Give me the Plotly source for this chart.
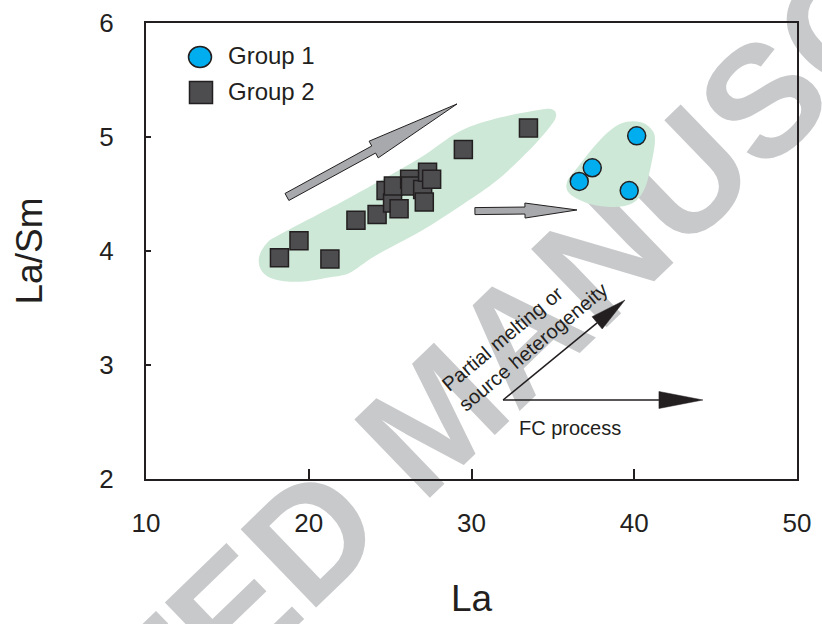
import math
import plotly.graph_objects as go

# ---------------- data ----------------
X_RANGE = [10, 50]
Y_RANGE = [2, 6]
X_TICKS = [10, 20, 30, 40, 50]
Y_TICKS = [2, 3, 4, 5, 6]

group1_name = "Group 1"
group1_la = [40.15, 37.42, 36.62, 39.69]
group1_lasm = [5.01, 4.73, 4.61, 4.53]

group2_name = "Group 2"
group2_la = [18.2, 19.4, 21.3, 22.9, 24.2, 24.75, 25.15, 25.55, 25.2, 26.2, 26.25,
             27.0, 27.1, 27.3, 27.55, 29.5, 33.5]
group2_lasm = [3.94, 4.09, 3.93, 4.27, 4.32, 4.53, 4.42, 4.37, 4.57, 4.63, 4.57,
               4.54, 4.43, 4.69, 4.63, 4.89, 5.08]

# field outlines (data coordinates)
field1_x = [16.94, 17.43, 18.42, 22.53, 26.65, 29.29, 31.75, 34.21, 35.01, 35.19,
            34.82, 33.59, 31.57, 29.48, 26.90, 24.07, 22.53, 21.31, 19.46, 17.93, 17.13]
field1_y = [3.94, 4.07, 4.16, 4.47, 4.80, 5.05, 5.17, 5.24, 5.24, 5.18,
            5.09, 4.89, 4.62, 4.41, 4.175, 3.956, 3.81, 3.77, 3.73, 3.75, 3.82]
field2_x = [39.12, 40.35, 41.09, 41.27, 40.97, 40.60, 39.92, 38.76, 37.28, 36.05, 35.87, 36.54, 37.90]
field2_y = [5.114, 5.132, 5.061, 4.956, 4.711, 4.535, 4.421, 4.386, 4.412, 4.50, 4.605, 4.737, 4.974]

# trend arrows (tail, tip) in data coordinates
gray_arrow1 = [(18.66, 4.474), (29.11, 5.29)]
gray_arrow2 = [(30.21, 4.35), (36.48, 4.36)]
black_arrow_pm = [(31.94, 2.693), (39.43, 3.57)]
black_arrow_fc = [(31.94, 2.693), (44.22, 2.693)]

label_pm = "Partial melting or<br>source heterogeneity"
label_pm_pos = (33.25, 3.25)
label_fc = "FC process"
label_fc_pos = (36.05, 2.447)

x_title = "La"
y_title = "La/Sm"
watermark = "ACCEPTED MANUSCRIPT"

# ---------------- layout geometry ----------------
W, H = 822, 624
M_L, M_R, M_T, M_B = 146, 25, 23, 145
PW = W - M_L - M_R
PH = H - M_T - M_B
FONT = "Liberation Sans, Arial, Helvetica, sans-serif"
INK = "#231f20"


def to_px(x, y):
    return (M_L + (x - X_RANGE[0]) / (X_RANGE[1] - X_RANGE[0]) * PW,
            M_T + (Y_RANGE[1] - y) / (Y_RANGE[1] - Y_RANGE[0]) * PH)


def px_to_paper(px, py):
    return ((px - M_L) / PW, (M_T + PH - py) / PH)


def arrow_path(tail, tip, shaft_w, head_w, head_len):
    x0, y0 = to_px(*tail)
    x1, y1 = to_px(*tip)
    dx, dy = x1 - x0, y1 - y0
    L = math.hypot(dx, dy)
    ux, uy = dx / L, dy / L
    nx, ny = -uy, ux
    bx, by = x1 - ux * head_len, y1 - uy * head_len
    pts = [(x0 + nx * shaft_w / 2, y0 + ny * shaft_w / 2),
           (bx + nx * shaft_w / 2, by + ny * shaft_w / 2),
           (bx + nx * head_w / 2, by + ny * head_w / 2),
           (x1, y1),
           (bx - nx * head_w / 2, by - ny * head_w / 2),
           (bx - nx * shaft_w / 2, by - ny * shaft_w / 2),
           (x0 - nx * shaft_w / 2, y0 - ny * shaft_w / 2)]
    pp = [px_to_paper(*p) for p in pts]
    return "M " + " L ".join(f"{a:.5f},{b:.5f}" for a, b in pp) + " Z"


def head_path(tail, tip, head_w, head_len):
    x0, y0 = to_px(*tail)
    x1, y1 = to_px(*tip)
    dx, dy = x1 - x0, y1 - y0
    L = math.hypot(dx, dy)
    ux, uy = dx / L, dy / L
    nx, ny = -uy, ux
    bx, by = x1 - ux * head_len, y1 - uy * head_len
    pts = [(x1, y1), (bx + nx * head_w / 2, by + ny * head_w / 2),
           (bx - nx * head_w / 2, by - ny * head_w / 2)]
    pp = [px_to_paper(*p) for p in pts]
    return "M " + " L ".join(f"{a:.5f},{b:.5f}" for a, b in pp) + " Z", (bx, by)


def smooth_closed(xs, ys):
    n = len(xs)
    p = list(zip(xs, ys))
    d = f"M {p[0][0]:.4f},{p[0][1]:.4f}"
    for i in range(n):
        p0, p1, p2, p3 = p[i - 1], p[i], p[(i + 1) % n], p[(i + 2) % n]
        c1 = (p1[0] + (p2[0] - p0[0]) / 6, p1[1] + (p2[1] - p0[1]) / 6)
        c2 = (p2[0] - (p3[0] - p1[0]) / 6, p2[1] - (p3[1] - p1[1]) / 6)
        d += f" C {c1[0]:.4f},{c1[1]:.4f} {c2[0]:.4f},{c2[1]:.4f} {p2[0]:.4f},{p2[1]:.4f}"
    return d + " Z"


fig = go.Figure()

fig.add_trace(go.Scatter(
    x=group2_la, y=group2_lasm, mode="markers", name=group2_name, showlegend=False,
    marker=dict(symbol="square", size=18, color="#4d4d4f", line=dict(color=INK, width=1.5))))
fig.add_trace(go.Scatter(
    x=group1_la, y=group1_lasm, mode="markers", name=group1_name, showlegend=False,
    marker=dict(symbol="circle", size=18, color="#00aeef", line=dict(color=INK, width=1.5))))

shapes = []

# watermark (below everything)
wm_c = (424, 406)
wm_ang = math.radians(44)
wm_d = 320
wx0, wy0 = px_to_paper(wm_c[0] - wm_d * math.cos(wm_ang), wm_c[1] + wm_d * math.sin(wm_ang))
wx1, wy1 = px_to_paper(wm_c[0] + wm_d * math.cos(wm_ang), wm_c[1] - wm_d * math.sin(wm_ang))
shapes.append(dict(type="line", xref="paper", yref="paper", x0=wx0, y0=wy0, x1=wx1, y1=wy1,
                   layer="below", line=dict(width=0, color="rgba(0,0,0,0)"),
                   label=dict(text="<b>" + watermark + "</b>", textposition="middle",
                              yanchor="middle",
                              font=dict(family=FONT, size=158, color="#c8c9cb"))))

# fields
for fx, fy in [(field1_x, field1_y), (field2_x, field2_y)]:
    shapes.append(dict(type="path", xref="x", yref="y", path=smooth_closed(fx, fy),
                       layer="below", fillcolor="#cde8d6", line=dict(width=0)))

# gray arrows
shapes.append(dict(type="path", xref="paper", yref="paper",
                   path=arrow_path(gray_arrow1[0], gray_arrow1[1], 8, 19, 95),
                   fillcolor="#a7a9ac", line=dict(color=INK, width=1), layer="above"))
shapes.append(dict(type="path", xref="paper", yref="paper",
                   path=arrow_path(gray_arrow2[0], gray_arrow2[1], 7, 15, 52),
                   fillcolor="#a7a9ac", line=dict(color=INK, width=1), layer="above"))

# black arrows
for arr, hw, hl in [(black_arrow_pm, 16, 36), (black_arrow_fc, 17, 44)]:
    hp, (bx, by) = head_path(arr[0], arr[1], hw, hl)
    sx, sy = px_to_paper(*to_px(*arr[0]))
    ex, ey = px_to_paper(bx, by)
    shapes.append(dict(type="line", xref="paper", yref="paper", x0=sx, y0=sy, x1=ex, y1=ey,
                       line=dict(color=INK, width=1.5), layer="above"))
    shapes.append(dict(type="path", xref="paper", yref="paper", path=hp,
                       fillcolor=INK, line=dict(color=INK, width=0.5), layer="above"))

# legend symbols
lc = px_to_paper(200, 57)
shapes.append(dict(type="circle", xref="paper", yref="paper",
                   x0=lc[0] - 11.5 / PW, x1=lc[0] + 11.5 / PW,
                   y0=lc[1] - 10.5 / PH, y1=lc[1] + 10.5 / PH,
                   fillcolor="#00aeef", line=dict(color=INK, width=1.5), layer="above"))
ls = px_to_paper(201, 92.5)
shapes.append(dict(type="rect", xref="paper", yref="paper",
                   x0=ls[0] - 11.5 / PW, x1=ls[0] + 11.5 / PW,
                   y0=ls[1] - 11 / PH, y1=ls[1] + 11 / PH,
                   fillcolor="#4d4d4f", line=dict(color=INK, width=1.5), layer="above"))

annotations = []
for name, py in [(group1_name, 56), (group2_name, 92)]:
    ax_, ay_ = px_to_paper(226, py)
    annotations.append(dict(text=name, x=ax_, y=ay_, xref="paper", yref="paper",
                            xanchor="left", yanchor="middle", showarrow=False,
                            font=dict(family=FONT, size=24, color=INK)))

annotations.append(dict(text=label_pm, x=label_pm_pos[0], y=label_pm_pos[1], xref="x", yref="y",
                        textangle=-40, align="left", showarrow=False,
                        xanchor="center", yanchor="middle",
                        font=dict(family=FONT, size=20, color=INK)))
annotations.append(dict(text=label_fc, x=label_fc_pos[0], y=label_fc_pos[1], xref="x", yref="y",
                        showarrow=False, xanchor="center", yanchor="middle",
                        font=dict(family=FONT, size=20, color=INK)))

axis_common = dict(showgrid=False, zeroline=False, showline=True, linewidth=2, linecolor=INK,
                   mirror=True, ticks="inside", tickwidth=1.5, tickcolor=INK,
                   tickfont=dict(family=FONT, size=26, color=INK))

fig.update_layout(
    width=W, height=H,
    margin=dict(l=M_L, r=M_R, t=M_T, b=M_B, autoexpand=False),
    paper_bgcolor="white", plot_bgcolor="white",
    showlegend=False,
    shapes=shapes, annotations=annotations,
    xaxis=dict(range=X_RANGE, tickvals=X_TICKS, ticklen=10, ticklabelstandoff=20,
               title=dict(text=x_title, font=dict(family=FONT, size=37, color=INK), standoff=48),
               **axis_common),
    yaxis=dict(range=Y_RANGE, tickvals=Y_TICKS, ticklen=5, ticklabelstandoff=25,
               title=dict(text=y_title, font=dict(family=FONT, size=37, color=INK), standoff=45),
               **axis_common),
)

fig.write_html("out.html")
